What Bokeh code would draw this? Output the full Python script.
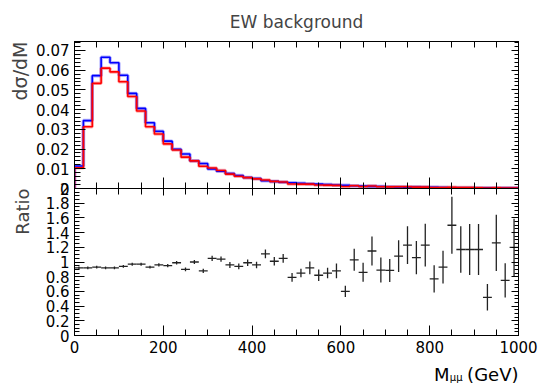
from bokeh.plotting import figure
from bokeh.models import Range1d, LinearAxis, SingleIntervalTicker, NumeralTickFormatter, Label, Title
from bokeh.layouts import column
from bokeh.embed import file_html
from bokeh.resources import INLINE

FONT = "DejaVu Sans"

title_text = "EW background"
y_label_top = "dσ/dM"
y_label_ratio = "Ratio"
x_label_main = "M"
x_label_sub = "μμ"
x_label_unit = "(GeV)"

bin_edges = list(range(0, 1001, 20))

xsec_blue = [0.0114, 0.0344, 0.0572, 0.0665, 0.0637, 0.0574, 0.0482, 0.0406, 0.0333, 0.0290,
             0.0240, 0.0199, 0.0175, 0.0141, 0.0127, 0.0099, 0.0088, 0.0076, 0.0066, 0.0056,
             0.0051, 0.0039, 0.0036, 0.0032, 0.0029, 0.0026, 0.0024, 0.0022, 0.0020, 0.0018,
             0.0016, 0.0014, 0.0012, 0.0011, 0.0010, 0.0009, 0.0008, 0.0007, 0.0007, 0.0006,
             0.0006, 0.0005, 0.0004, 0.0004, 0.0004, 0.0003, 0.0003, 0.0003, 0.0002, 0.0002]

xsec_red = [0.0105, 0.0313, 0.0533, 0.0610, 0.0591, 0.0541, 0.0466, 0.0393, 0.0313, 0.0276,
            0.0226, 0.0195, 0.0159, 0.0140, 0.0113, 0.0104, 0.0091, 0.0073, 0.0062, 0.0055,
            0.0049, 0.0043, 0.0036, 0.0033, 0.0023, 0.0022, 0.0022, 0.0018, 0.0017, 0.0016,
            0.0010, 0.0014, 0.0010, 0.0013, 0.0009, 0.0008, 0.0009, 0.0009, 0.0007, 0.0007,
            0.0005, 0.0005, 0.0006, 0.0005, 0.0005, 0.0004, 0.0002, 0.0004, 0.0002, 0.0002]

ratio_vals = [0.92, 0.92, 0.93, 0.92, 0.92, 0.94, 0.97, 0.97, 0.93, 0.96,
              0.95, 0.99, 0.90, 1.00, 0.88, 1.05, 1.04, 0.96, 0.94, 0.99,
              0.96, 1.11, 1.01, 1.05, 0.79, 0.85, 0.92, 0.82, 0.85, 0.88,
              0.60, 1.03, 0.86, 1.15, 0.89, 0.885, 1.08, 1.23, 1.06, 1.23,
              0.77, 0.93, 1.50, 1.17, 1.17, 1.17, 0.52, 1.26, 0.75, 1.20]

ratio_errs = [0.020, 0.018, 0.018, 0.018, 0.018, 0.018, 0.020, 0.020, 0.020, 0.022,
              0.022, 0.025, 0.025, 0.028, 0.028, 0.036, 0.036, 0.040, 0.040, 0.045,
              0.045, 0.059, 0.059, 0.059, 0.059, 0.059, 0.086, 0.077, 0.072, 0.100,
              0.077, 0.150, 0.130, 0.197, 0.170, 0.156, 0.215, 0.256, 0.227, 0.290,
              0.186, 0.224, 0.388, 0.315, 0.347, 0.347, 0.180, 0.383, 0.233, 0.390]

# derived drawing arrays
step_x = [bin_edges[0]] + bin_edges
step_blue = [0] + xsec_blue + [xsec_blue[-1]]
step_red = [0] + xsec_red + [xsec_red[-1]]
lo_edges = bin_edges[:-1]
hi_edges = bin_edges[1:]
centers = [(a + b) / 2 for a, b in zip(lo_edges, hi_edges)]
err_lo = [v - e for v, e in zip(ratio_vals, ratio_errs)]
err_hi = [v + e for v, e in zip(ratio_vals, ratio_errs)]


def style_axis(ax, major_in, minor_in, labels=True, fs="15px"):
    ax.major_tick_in = major_in
    ax.major_tick_out = 0
    ax.minor_tick_in = minor_in
    ax.minor_tick_out = 0
    ax.axis_line_color = "black"
    ax.major_tick_line_color = "black"
    ax.minor_tick_line_color = "black"
    if labels:
        ax.major_label_text_font = FONT
        ax.major_label_text_font_size = fs
        ax.major_label_text_color = "black"
    else:
        ax.major_label_text_color = None
        ax.major_label_standoff = 0


def base_fig(height, yr, top, bottom, title=None):
    p = figure(width=539, height=height, x_range=Range1d(0, 1000), y_range=yr,
               output_backend="svg", toolbar_location=None,
               min_border_left=74, min_border_right=21,
               min_border_top=top, min_border_bottom=bottom, title=title)
    p.xgrid.visible = False
    p.ygrid.visible = False
    p.outline_line_color = "black"
    p.outline_line_width = 1
    return p


# ---------------- top panel ----------------
p1 = base_fig(200, Range1d(0, 0.0745), 39, 12, title=title_text)
p1.title.text_font = FONT
p1.title.text_font_size = "17px"
p1.title.text_font_style = "normal"
p1.title.align = "center"
p1.title.standoff = 19

p1.xaxis.ticker = SingleIntervalTicker(interval=200, num_minor_ticks=4)
style_axis(p1.xaxis[0], 11, 6, labels=False)
p1.yaxis.ticker = SingleIntervalTicker(interval=0.01, num_minor_ticks=5)
p1.yaxis.formatter = NumeralTickFormatter(format="0.[00]")
style_axis(p1.yaxis[0], 11, 6)

t1 = Title(text=y_label_top, align="right", text_font=FONT, text_font_size="19px",
           text_font_style="normal", standoff=6)
p1.add_layout(t1, "left")

ax_top = LinearAxis(ticker=SingleIntervalTicker(interval=200, num_minor_ticks=4))
style_axis(ax_top, 7, 6, labels=False)
p1.add_layout(ax_top, "above")
ax_r1 = LinearAxis(ticker=SingleIntervalTicker(interval=0.01, num_minor_ticks=5))
style_axis(ax_r1, 7, 4, labels=False)
p1.add_layout(ax_r1, "right")

p1.step(step_x, step_blue, mode="after", line_color="blue", line_width=3.5, line_alpha=0.3)
p1.step(step_x, step_red, mode="after", line_color="red", line_width=3.5, line_alpha=0.3)
p1.step(step_x, step_blue, mode="after", line_color="blue", line_width=1.6)
p1.step(step_x, step_red, mode="after", line_color="red", line_width=1.6)

# ---------------- ratio panel ----------------
p2 = base_fig(177, Range1d(0, 2), 6, 24)
p2.styles = {"margin-top": "-18px"}
p2.background_fill_color = None
p2.border_fill_color = None
p2.x_range = p1.x_range
p2.xaxis.ticker = SingleIntervalTicker(interval=200, num_minor_ticks=4)
style_axis(p2.xaxis[0], 10, 6)
p2.xaxis.major_label_standoff = 5
p2.yaxis.ticker = SingleIntervalTicker(interval=0.2, num_minor_ticks=4)
p2.yaxis.formatter = NumeralTickFormatter(format="0.[0]")
style_axis(p2.yaxis[0], 10, 5)

t2 = Title(text=y_label_ratio, align="right", text_font=FONT, text_font_size="18px",
           text_font_style="normal", standoff=19)
p2.add_layout(t2, "left")

ax_top2 = LinearAxis(ticker=SingleIntervalTicker(interval=200, num_minor_ticks=4))
style_axis(ax_top2, 7, 6, labels=False)
p2.add_layout(ax_top2, "above")
ax_r2 = LinearAxis(ticker=SingleIntervalTicker(interval=0.2, num_minor_ticks=4))
style_axis(ax_r2, 7, 4, labels=False)
p2.add_layout(ax_r2, "right")

p2.segment(x0=centers, y0=err_lo, x1=centers, y1=err_hi, line_color="#222222", line_width=1.3)
p2.segment(x0=lo_edges, y0=ratio_vals, x1=hi_edges, y1=ratio_vals, line_color="#222222", line_width=1.3)

# ---------------- x axis title strip ----------------
p3 = figure(width=539, height=28, x_range=p1.x_range, y_range=Range1d(0, 28),
            output_backend="svg", toolbar_location=None,
            min_border_left=74, min_border_right=21, min_border_top=0, min_border_bottom=0)
p3.xaxis.visible = False
p3.yaxis.visible = False
p3.xgrid.visible = False
p3.ygrid.visible = False
p3.outline_line_color = None

lab_unit = Label(x=1000, y=13, text=x_label_unit, text_align="right", text_baseline="alphabetic",
                 text_font=FONT, text_font_size="18px", text_color="black")
lab_sub = Label(x=1000, y=10, x_offset=-56, text=x_label_sub, text_align="right",
                text_baseline="alphabetic", text_font=FONT, text_font_size="10px", text_color="black")
lab_m = Label(x=1000, y=13, x_offset=-69, text=x_label_main, text_align="right",
              text_baseline="alphabetic", text_font=FONT, text_font_size="18px", text_color="black")
p3.add_layout(lab_unit)
p3.add_layout(lab_sub)
p3.add_layout(lab_m)

layout = column(p1, p2, p3)
open("out.html", "w").write(file_html(layout, INLINE))
